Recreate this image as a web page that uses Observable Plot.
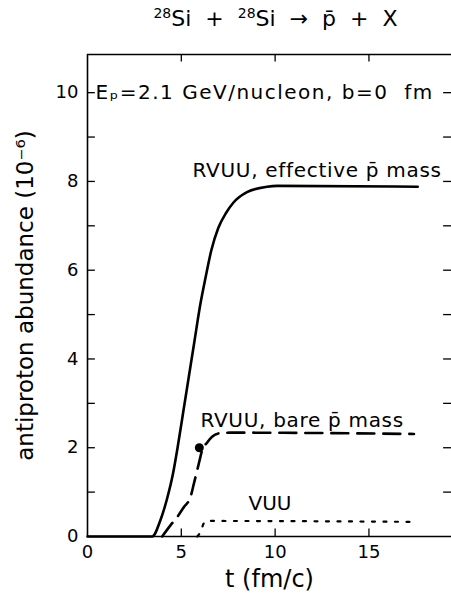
<!DOCTYPE html>
<html><head><meta charset="utf-8">
<script src="https://cdn.jsdelivr.net/npm/d3@7"></script>
<script src="https://cdn.jsdelivr.net/npm/@observablehq/plot@0.6"></script>
<style>
body{margin:0;background:#fff;width:451px;height:595px;overflow:hidden;font-family:"DejaVu Sans",sans-serif;color:#000;}
#title{height:40px;box-sizing:border-box;padding-left:100px;text-align:center;font-size:22px;line-height:38px;white-space:pre;}
#title sup{font-size:14px;line-height:0;}
</style></head>
<body><div id="title"><sup>28</sup>Si  +  <sup>28</sup>Si  →  p̄  +  X</div><div id="chart"></div>
<script>
// Series: time t (fm/c) and antiproton abundance (10^-6)
const effT = [0, 3.45, 3.88, 4.24, 4.55, 4.8, 5.1, 5.4, 5.7, 6.0, 6.3, 6.6, 6.97, 7.4, 7.77, 8.5, 9.57, 10.1, 17.6];
const effV = [0, 0, 0.36, 0.85, 1.4, 2.0, 2.8, 3.6, 4.4, 5.2, 5.85, 6.45, 6.95, 7.3, 7.52, 7.76, 7.88, 7.9, 7.88];
const bareT = [3.98, 4.42, 4.8, 5.13, 5.49, 5.67, 5.93, 6.11, 6.38, 6.64, 7.09, 7.6, 17.4];
const bareV = [0, 0.25, 0.45, 0.66, 0.89, 1.19, 1.64, 1.94, 2.12, 2.25, 2.33, 2.34, 2.31];
const vuuT = [5.85, 6.02, 6.2, 6.35, 17.4];
const vuuV = [0, 0.1, 0.3, 0.35, 0.33];
const pointT = [5.96];
const pointV = [2.0];
const xTicks = [0, 5, 10, 15];
const yTicks = [0, 2, 4, 6, 8, 10];
const yMinorTicks = [1, 2, 3, 4, 5, 6, 7, 8, 9, 10];
const annoText = ["Eₚ=2.1 GeV/nucleon, b=0  fm", "RVUU, effective p̄ mass", "RVUU, bare p̄ mass", "VUU"];
const annoT = [0.43, 5.6, 6.02, 8.58];
const annoV = [10.0, 8.25, 2.61, 0.74];
const xLabel = "t (fm/c)";
const yLabel = "antiproton abundance (10⁻⁶)";
const xMax = 19.4, yMax = 10.86;

const eff = effT.map((t, i) => ({t, v: effV[i]}));
const bare = bareT.map((t, i) => ({t, v: bareV[i]}));
const vuu = vuuT.map((t, i) => ({t, v: vuuV[i]}));
const pts = pointT.map((t, i) => ({t, v: pointV[i]}));
const annos = annoText.map((s, i) => ({s, t: annoT[i], v: annoV[i]}));

const chart = Plot.plot({
  width: 451, height: 555,
  marginLeft: 87, marginRight: 0, marginTop: 14, marginBottom: 59,
  style: {fontFamily: "DejaVu Sans", fontSize: "18px", color: "#000", background: "#fff"},
  x: {domain: [0, xMax]},
  y: {domain: [0, yMax]},
  marks: [
    Plot.ruleX([0], {y1: 0, y2: yMax, stroke: "#000", strokeWidth: 1.6}),
    Plot.ruleY([0, yMax], {x1: 0, x2: xMax, stroke: "#000", strokeWidth: 1.6}),
    Plot.ruleY(yMinorTicks, {x1: 0, x2: 0.42, stroke: "#000", strokeWidth: 1.3}),
    Plot.ruleY(yMinorTicks, {x1: xMax - 0.42, x2: xMax, stroke: "#000", strokeWidth: 1.3}),
    Plot.ruleX(xTicks.slice(1), {y1: 0, y2: 0.17, stroke: "#000", strokeWidth: 1.3}),
    Plot.ruleX(xTicks.slice(1), {y1: yMax - 0.17, y2: yMax, stroke: "#000", strokeWidth: 1.3}),
    Plot.axisX({ticks: xTicks, tickSize: 0, tickPadding: 9, label: null, fontSize: 18}),
    Plot.axisY({ticks: yTicks, tickSize: 0, tickPadding: 9, label: null, fontSize: 18}),
    Plot.line(eff, {x: "t", y: "v", curve: "monotone-x", stroke: "#000", strokeWidth: 2.6}),
    Plot.line(bare, {x: "t", y: "v", curve: "monotone-x", stroke: "#000", strokeWidth: 2.6, strokeDasharray: "17,9"}),
    Plot.line(vuu, {x: "t", y: "v", curve: "monotone-x", stroke: "#000", strokeWidth: 2.2, strokeDasharray: "3,8.5"}),
    Plot.dot(pts, {x: "t", y: "v", r: 4.5, fill: "#000"}),
    Plot.text(annos, {x: "t", y: "v", text: "s", textAnchor: "start", fontSize: 20, fill: "#000"}),
    Plot.text([xLabel], {frameAnchor: "bottom", dy: 43, lineAnchor: "middle", textAnchor: "middle", fontSize: 24, fill: "#000"}),
    Plot.text([yLabel], {frameAnchor: "left", dx: -62, rotate: -90, textAnchor: "middle", lineAnchor: "middle", fontSize: 23, fill: "#000"})
  ]
});
// widen the annotation lettering to match the original typeface
d3.select(chart).selectAll("text")
  .filter(function() { return annoText.indexOf(this.textContent) >= 0; })
  .style("white-space", "pre")
  .style("letter-spacing", function() { return this.textContent === annoText[0] ? "1.5px" : (this.textContent === annoText[3] ? "0px" : "0.7px"); });
document.getElementById("chart").appendChild(chart);
</script>
</body></html>
